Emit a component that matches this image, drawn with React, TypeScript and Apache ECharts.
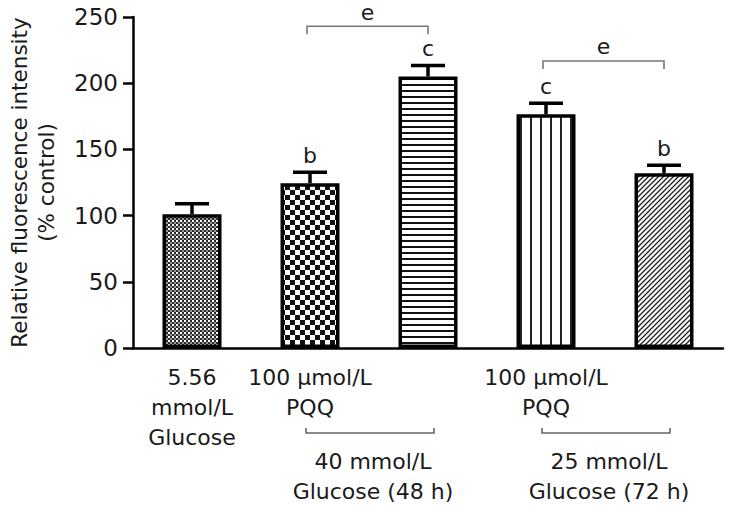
import React, { useEffect, useRef } from "react";
import * as echarts from "echarts";

// ---- data ----
const groups = ["Ctrl", "PQQ+G40", "G40", "PQQ+G25", "G25"];
const tickLabels = ["5.56\nmmol/L\nGlucose", "100 μmol/L\nPQQ", "", "100 μmol/L\nPQQ", ""];
const means = [101, 124.5, 205, 176.5, 132];
const errors = [8, 8.3, 8.4, 8.3, 6];
const letters = ["", "b", "c", "c", "b"];
const yTicks = [0, 50, 100, 150, 200, 250];
// significance brackets above bars
const sigFrom = [1, 3];
const sigTo = [2, 4];
const sigY = [243, 216.8];
const sigLabel = ["e", "e"];
// treatment groups below the axis
const treatFrom = [1, 3];
const treatTo = [2, 4];
const treatLabel = ["40 mmol/L\nGlucose (48 h)", "25 mmol/L\nGlucose (72 h)"];

const FONT = "DejaVu Sans";
const FS = 22;

function makePattern(kind: number) {
  const c = document.createElement("canvas");
  let w = 4, h = 4;
  if (kind === 0) { w = 4; h = 4; }
  if (kind === 1) { w = 10; h = 10; }
  if (kind === 2) { w = 4; h = 6; }
  if (kind === 3) { w = 10; h = 4; }
  if (kind === 4) { w = 5; h = 5; }
  c.width = w; c.height = h;
  const g = c.getContext("2d")!;
  g.fillStyle = "#fff";
  g.fillRect(0, 0, w, h);
  g.fillStyle = "#111";
  if (kind === 0) {
    g.fillStyle = "#2a2a2a";
    g.fillRect(0, 0, 4, 4);
    g.fillStyle = "#fff";
    g.fillRect(0, 0, 2, 2);
    g.fillStyle = "#999";
    g.fillRect(2, 2, 2, 2);
  } else if (kind === 1) {
    g.fillRect(0, 0, 5, 5);
    g.fillRect(5, 5, 5, 5);
  } else if (kind === 2) {
    g.fillRect(0, 0, w, 2);
  } else if (kind === 3) {
    g.fillStyle = "#222";
    g.fillRect(0, 0, 2, h);
  } else if (kind === 4) {
    g.strokeStyle = "#222";
    g.lineWidth = 1.3;
    g.beginPath();
    g.moveTo(-1, 6); g.lineTo(6, -1);
    g.moveTo(-1, 1); g.lineTo(1, -1);
    g.moveTo(4, 6); g.lineTo(6, 4);
    g.stroke();
  }
  return { image: c.toDataURL(), imageWidth: w, imageHeight: h, repeat: "repeat" as const };
}

export default function App() {
  const ref = useRef<HTMLDivElement>(null);
  useEffect(() => {
    document.body.style.margin = "0";
    const chart = echarts.init(ref.current!, null, { renderer: "svg" });
    const patterns = [0, 1, 2, 3, 4].map(makePattern);

    const option: any = {
      animation: false,
      backgroundColor: "#fff",
      grid: { left: 133, right: 6, top: 17, bottom: 158, containLabel: false, outerBoundsMode: "none" },
      xAxis: {
        type: "category",
        data: groups,
        axisLine: { lineStyle: { color: "#000", width: 2.5 } },
        axisTick: { alignWithLabel: true, length: 10, lineStyle: { color: "#000", width: 2.5 }, interval: 0 },
        axisLabel: {
          interval: 0,
          formatter: (_v: string, i: number) => tickLabels[i],
          fontFamily: FONT,
          fontSize: FS,
          lineHeight: 30,
          color: "#1a1a1a",
          margin: 14,
        },
      },
      yAxis: {
        type: "value",
        min: 0,
        max: 250,
        interval: 50,
        name: "Relative fluorescence intensity\n(% control)",
        nameLocation: "middle",
        nameRotate: 90,
        nameGap: 73,
        nameTextStyle: { fontFamily: FONT, fontSize: 21.5, lineHeight: 27, color: "#1a1a1a" },
        splitLine: { show: false },
        axisLine: { show: true, lineStyle: { color: "#000", width: 2.5 } },
        axisTick: { show: true, length: 10, lineStyle: { color: "#000", width: 2.5 } },
        axisLabel: {
          fontFamily: FONT,
          fontSize: FS + 1,
          color: "#1a1a1a",
          margin: 15,
          formatter: (v: number) => (yTicks.includes(v) ? String(v) : ""),
        },
      },
      series: [
        {
          type: "bar",
          barWidth: 59,
          data: means.map((m, i) => ({
            value: m,
            itemStyle: { color: patterns[i], borderColor: "#000", borderWidth: 3.5 },
          })),
          z: 2,
        },
        {
          type: "custom",
          z: 3,
          clip: false,
          data: means.map((m, i) => [i, m, errors[i]]),
          renderItem: (params: any, api: any) => {
            const i = api.value(0);
            const m = api.value(1);
            const e = api.value(2);
            const p0 = api.coord([i, m]);
            const p1 = api.coord([i, m + e]);
            const children: any[] = [
              { type: "line", shape: { x1: p0[0], y1: p0[1], x2: p1[0], y2: p1[1] }, style: { stroke: "#000", lineWidth: 3.5 } },
              { type: "line", shape: { x1: p1[0] - 17, y1: p1[1], x2: p1[0] + 17, y2: p1[1] }, style: { stroke: "#000", lineWidth: 3.5 } },
            ];
            const lt = letters[params.dataIndex];
            if (lt) {
              children.push({
                type: "text",
                x: p1[0],
                y: p1[1] - 6,
                style: { text: lt, fontFamily: FONT, fontSize: FS, fill: "#1a1a1a", align: "center", verticalAlign: "bottom" },
              });
            }
            return { type: "group", children };
          },
        },
        {
          type: "custom",
          z: 3,
          clip: false,
          data: sigFrom.map((f, k) => [f, sigTo[k], sigY[k]]),
          renderItem: (params: any, api: any) => {
            const a = api.coord([api.value(0), api.value(2)]);
            const b = api.coord([api.value(1), api.value(2)]);
            const leg = 8;
            const x1 = a[0] - 3, x2 = b[0];
            const y = a[1];
            return {
              type: "group",
              children: [
                { type: "polyline", shape: { points: [[x1, y + leg], [x1, y], [x2, y], [x2, y + leg]] }, style: { stroke: "#777", lineWidth: 1.6, fill: null } },
                { type: "text", x: (x1 + x2) / 2, y: y - 3, style: { text: sigLabel[params.dataIndex], fontFamily: FONT, fontSize: FS, fill: "#1a1a1a", align: "center", verticalAlign: "bottom" } },
              ],
            };
          },
        },
        {
          type: "custom",
          z: 3,
          clip: false,
          data: treatFrom.map((f, k) => [f, treatTo[k]]),
          renderItem: (params: any, api: any) => {
            const a = api.coord([api.value(0), 0]);
            const b = api.coord([api.value(1), 0]);
            const x1 = a[0] - 4, x2 = b[0] + 6;
            const y = a[1] + 85;
            return {
              type: "group",
              children: [
                { type: "polyline", shape: { points: [[x1, y - 5], [x1, y], [x2, y], [x2, y - 5]] }, style: { stroke: "#666", lineWidth: 1.6, fill: null } },
                { type: "text", x: (x1 + x2) / 2 + 3, y: y + 13, style: { text: treatLabel[params.dataIndex], fontFamily: FONT, fontSize: FS, lineHeight: 30, fill: "#1a1a1a", align: "center", verticalAlign: "top" } },
              ],
            };
          },
        },
      ],
    };
    chart.setOption(option);
    return () => chart.dispose();
  }, []);
  return <div ref={ref} style={{ width: 729, height: 506 }} />;
}
